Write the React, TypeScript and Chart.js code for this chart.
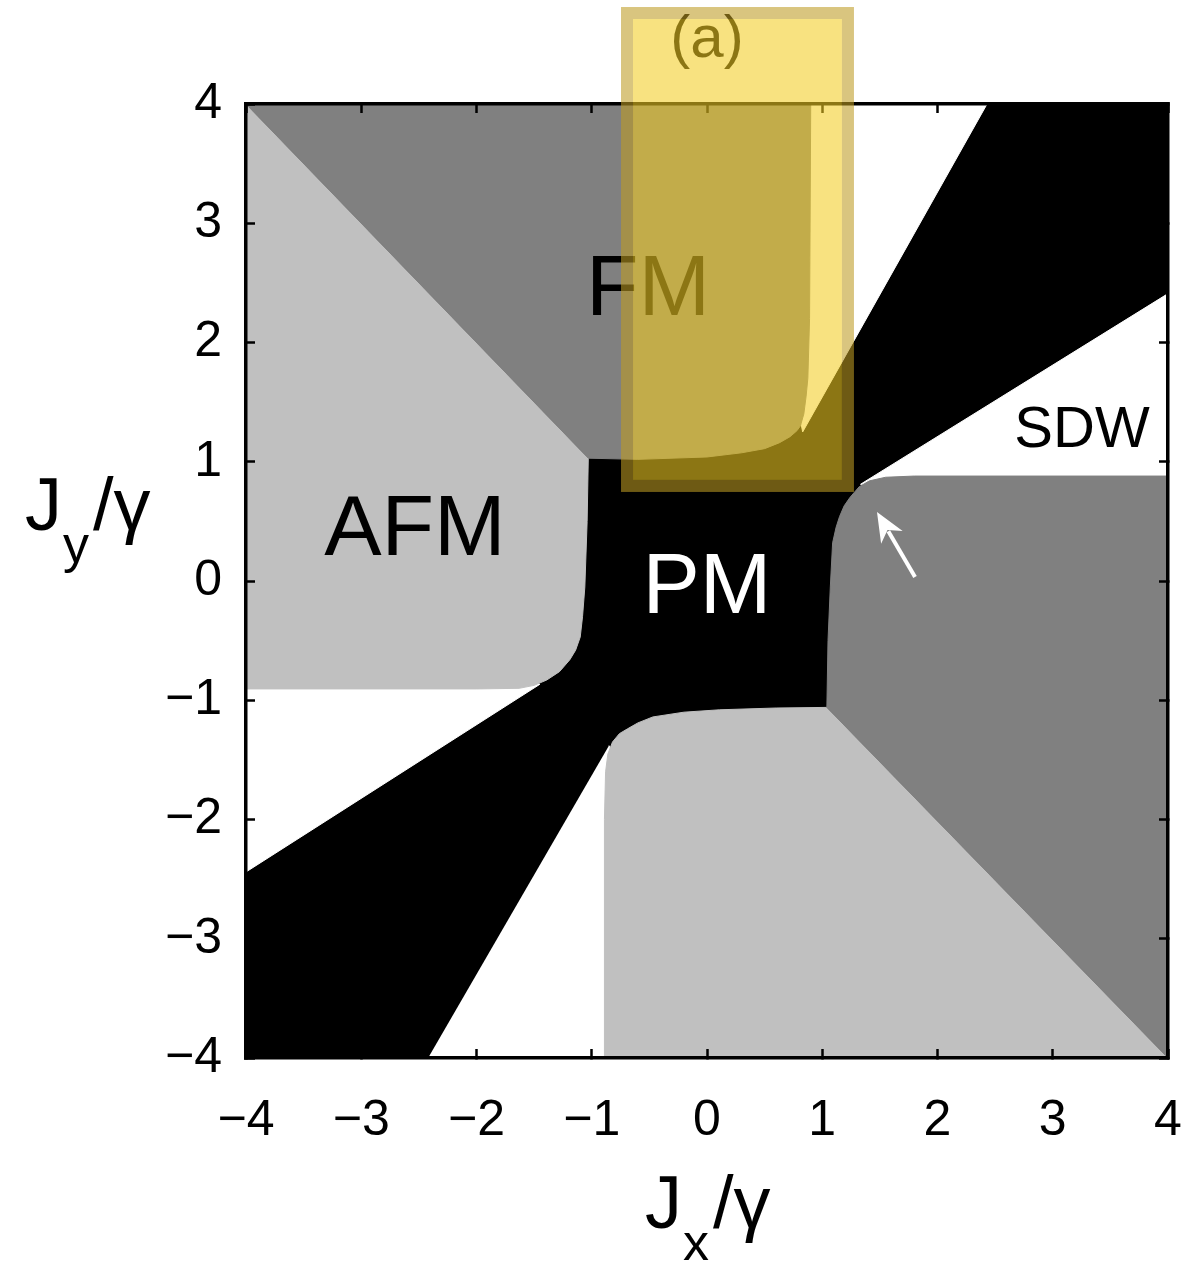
import React, { useEffect, useRef } from 'react';
import { Chart, registerables } from 'chart.js';

Chart.register(...registerables);

const FONT = '"Liberation Sans", Arial, Helvetica, sans-serif';

// ---- axis ticks ----
const tickValues = [-4, -3, -2, -1, 0, 1, 2, 3, 4];
const tickLabels = ['−4', '−3', '−2', '−1', '0', '1', '2', '3', '4'];

// ---- phase regions (Jx/γ, Jy/γ) ----
const pmRegion: [number, number][] = [[-4, -4], [4, -4], [4, 4], [-4, 4]];
const whiteTop: [number, number][] = [[0.6, 4], [2.43, 4], [0.83, 1.25], [0.6, 2.4]];
const whiteSDW: [number, number][] = [[1.33, 0.81], [4, 2.41], [4, 0.6], [2.0, 0.6]];
const whiteLeft: [number, number][] = [[-4, -0.6], [-4, -2.44], [-1.45, -0.866], [-2.0, -0.6]];
const whiteBottom: [number, number][] = [[-2.42, -4], [-0.6, -4], [-0.6, -2.0], [-0.85, -1.38]];
const fmTop: [number, number][] = [
  [-4, 4], [-1.03, 1.03], [-0.6, 1.02], [0, 1.04], [0.3, 1.075], [0.5, 1.11], [0.63, 1.16],
  [0.72, 1.21], [0.78, 1.26], [0.81, 1.3], [0.84, 1.4], [0.86, 1.55], [0.875, 1.7], [0.89, 2.2], [0.9, 4],
];
const fmRight: [number, number][] = [
  [4, -4], [1.04, -1.06], [1.05, -0.5], [1.07, -0.05], [1.09, 0.32], [1.12, 0.45], [1.15, 0.54],
  [1.19, 0.63], [1.24, 0.7], [1.32, 0.79], [1.41, 0.84], [1.55, 0.87], [1.8, 0.88], [4, 0.88],
];
const afmLeft: [number, number][] = [
  [-4, 4], [-1.03, 1.03], [-1.04, 0.5], [-1.06, -0.05], [-1.08, -0.3], [-1.1, -0.47], [-1.14, -0.58],
  [-1.19, -0.66], [-1.28, -0.76], [-1.39, -0.83], [-1.5, -0.875], [-1.63, -0.9], [-2, -0.905], [-4, -0.905],
];
const afmBottom: [number, number][] = [
  [-0.89, -4], [-0.89, -2.0], [-0.88, -1.6], [-0.86, -1.45], [-0.82, -1.35], [-0.76, -1.28], [-0.69, -1.24],
  [-0.6, -1.19], [-0.47, -1.14], [-0.2, -1.1], [0.11, -1.08], [0.6, -1.065], [1.04, -1.06], [4, -4],
];

// ---- annotations ----
const regionLabels = [
  { text: 'FM', x: -0.512, y: 2.23, color: '#000', size: 86 },
  { text: 'AFM', x: -2.534, y: 0.218, color: '#000', size: 86 },
  { text: 'PM', x: 0.0, y: -0.268, color: '#fff', size: 86 },
  { text: 'SDW', x: 3.254, y: 1.124, color: '#000', size: 58 },
];
const arrowTail = [1.805, 0.034];
const arrowTip = [1.475, 0.579];
const highlightBox = { x0: -0.694, x1: 1.223, y0: 0.797, y1: 4.763 };
const panelLabel = { text: '(a)', x: 0, y: 4.39 };

const toPts = (arr: [number, number][]) => arr.map(([x, y]) => ({ x, y }));

function region(data: [number, number][], color: string, order: number) {
  return {
    data: toPts(data),
    backgroundColor: color,
    borderColor: color,
    borderWidth: 1,
    fill: 'shape',
    pointRadius: 0,
    pointHoverRadius: 0,
    tension: 0,
    order,
  };
}

function drawTitle(ctx: CanvasRenderingContext2D, x: number, base: number, sub: string) {
  ctx.save();
  ctx.fillStyle = '#000';
  ctx.textAlign = 'left';
  ctx.textBaseline = 'alphabetic';
  ctx.font = `74px ${FONT}`;
  ctx.fillText('J', x, base);
  let cx = x + ctx.measureText('J').width + 1;
  ctx.font = `52px ${FONT}`;
  ctx.fillText(sub, cx, base + 32);
  cx += ctx.measureText(sub).width + 4;
  ctx.font = `74px ${FONT}`;
  ctx.fillText('/γ', cx, base);
  ctx.restore();
}

const annotPlugin = {
  id: 'annot',
  afterDatasetsDraw(chart: any) {
    const { ctx, scales } = chart;
    const xs = scales.x, ys = scales.y;
    ctx.save();
    for (const l of regionLabels) {
      ctx.font = `${l.size}px ${FONT}`;
      ctx.fillStyle = l.color;
      ctx.textAlign = 'center';
      ctx.textBaseline = 'alphabetic';
      ctx.fillText(l.text, xs.getPixelForValue(l.x), ys.getPixelForValue(l.y));
    }
    // arrow
    const tx = xs.getPixelForValue(arrowTip[0]), ty = ys.getPixelForValue(arrowTip[1]);
    const sx = xs.getPixelForValue(arrowTail[0]), sy = ys.getPixelForValue(arrowTail[1]);
    const ang = Math.atan2(sy - ty, sx - tx);
    const hl = 32, ha = 0.4;
    ctx.strokeStyle = '#fff';
    ctx.fillStyle = '#fff';
    ctx.lineWidth = 4;
    ctx.beginPath();
    ctx.moveTo(sx, sy);
    ctx.lineTo(tx + Math.cos(ang) * hl * 0.7, ty + Math.sin(ang) * hl * 0.7);
    ctx.stroke();
    ctx.beginPath();
    ctx.moveTo(tx, ty);
    ctx.lineTo(tx + Math.cos(ang + ha) * hl, ty + Math.sin(ang + ha) * hl);
    ctx.lineTo(tx + Math.cos(ang) * hl * 0.65, ty + Math.sin(ang) * hl * 0.65);
    ctx.lineTo(tx + Math.cos(ang - ha) * hl, ty + Math.sin(ang - ha) * hl);
    ctx.closePath();
    ctx.fill();
    ctx.restore();
  },
  afterDraw(chart: any) {
    const { ctx, scales } = chart;
    const xs = scales.x, ys = scales.y;
    drawTitle(ctx, 645, 1228, 'x');
    drawTitle(ctx, 25, 530, 'y');
    ctx.save();
    ctx.font = `60px ${FONT}`;
    ctx.fillStyle = '#000';
    ctx.textAlign = 'center';
    ctx.textBaseline = 'alphabetic';
    ctx.fillText(panelLabel.text, xs.getPixelForValue(panelLabel.x), ys.getPixelForValue(panelLabel.y));
    const bx0 = xs.getPixelForValue(highlightBox.x0);
    const bx1 = xs.getPixelForValue(highlightBox.x1);
    const by0 = ys.getPixelForValue(highlightBox.y1);
    const by1 = ys.getPixelForValue(highlightBox.y0);
    const bw = 12;
    ctx.fillStyle = 'rgba(242,205,35,0.575)';
    ctx.fillRect(bx0 + bw / 2, by0 + bw / 2, bx1 - bx0 - bw, by1 - by0 - bw);
    ctx.strokeStyle = 'rgba(190,155,34,0.58)';
    ctx.lineWidth = bw;
    ctx.strokeRect(bx0, by0, bx1 - bx0, by1 - by0);
    ctx.restore();
  },
};

function axis(position: string, showLabels: boolean, fit: (s: any) => void) {
  return {
    type: 'linear',
    position,
    min: -4,
    max: 4,
    afterBuildTicks: (s: any) => {
      s.ticks = tickValues.map((v) => ({ value: v }));
    },
    ticks: {
      display: showLabels,
      autoSkip: false,
      maxRotation: 0,
      color: '#000',
      font: { size: 50, family: FONT },
      padding: position === 'bottom' ? 42 : 33,
      callback: (v: number) => {
        const i = tickValues.indexOf(v);
        return i >= 0 ? tickLabels[i] : '';
      },
    },
    grid: {
      drawOnChartArea: false,
      drawTicks: true,
      tickLength: -9,
      tickWidth: 2.5,
      tickColor: '#000',
      z: 1,
    },
    border: { display: true, color: '#000', width: 3.5, z: 1 },
    afterFit: (s: any) => {
      fit(s);
      s.paddingLeft = 0;
      s.paddingRight = 0;
      s.paddingTop = 0;
      s.paddingBottom = 0;
    },
  };
}

export default function App() {
  const ref = useRef<HTMLCanvasElement | null>(null);
  useEffect(() => {
    if (!ref.current) return;
    const chart = new Chart(ref.current, {
      type: 'line',
      data: {
        datasets: [
          region(fmTop, '#808080', 1),
          region(fmRight, '#808080', 1),
          region(afmLeft, '#c0c0c0', 1),
          region(afmBottom, '#c0c0c0', 1),
          region(whiteTop, '#ffffff', 2),
          region(whiteSDW, '#ffffff', 2),
          region(whiteLeft, '#ffffff', 2),
          region(whiteBottom, '#ffffff', 2),
          region(pmRegion, '#000000', 3),
        ] as any,
      },
      options: {
        responsive: false,
        animation: false,
        devicePixelRatio: 1,
        events: [],
        layout: { padding: { left: 0, right: 18, top: 104, bottom: 0 } },
        plugins: { legend: { display: false }, tooltip: { enabled: false }, title: { display: false } },
        scales: {
          x: axis('bottom', true, (s: any) => { s.height = 214; }),
          y: axis('left', true, (s: any) => { s.width = 246; }),
          x2: axis('top', false, (s: any) => { s.height = 0; }),
          y2: axis('right', false, (s: any) => { s.width = 0; }),
        } as any,
      },
      plugins: [annotPlugin],
    });
    return () => chart.destroy();
  }, []);
  return (
    <div style={{ position: 'absolute', left: 0, top: 0, width: 1186, height: 1272, background: '#fff' }}>
      <canvas ref={ref} width={1186} height={1272} style={{ width: 1186, height: 1272, display: 'block' }} />
    </div>
  );
}
